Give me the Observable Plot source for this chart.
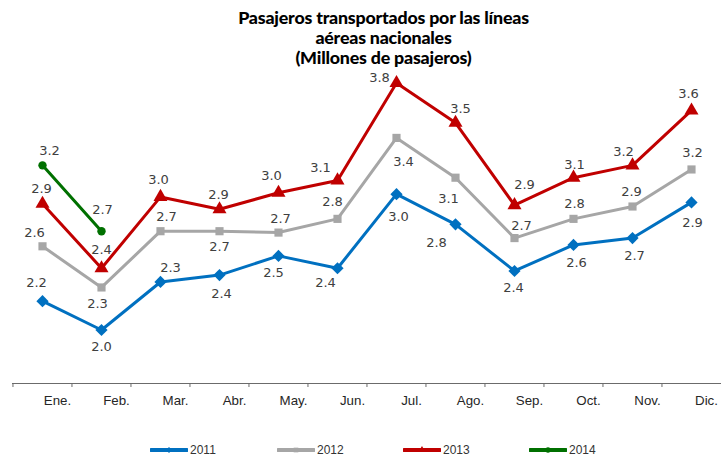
<!DOCTYPE html>
<html>
<head>
<meta charset="utf-8">
<script src="https://cdn.jsdelivr.net/npm/d3@7"></script>
<script src="https://cdn.jsdelivr.net/npm/@observablehq/plot@0.6"></script>
<style>
  body { margin: 0; background: #fff; }
  #wrap { width: 721px; height: 459px; position: relative; overflow: hidden; }
  #title { width: 721px; height: 70px; box-sizing: border-box; padding-top: 7px; padding-left: 46px;
    font-family: Lato, "Liberation Sans", sans-serif; font-weight: 900; font-size: 17.8px; line-height: 20px;
    text-align: center; color: #000; letter-spacing: -0.2px; }
  #legend { position: relative; height: 39px; font-family: "Liberation Sans", Arial, sans-serif; font-size: 12px; color: #333; }
  .item { position: absolute; top: 23px; display: flex; align-items: center; height: 14px; }
  .item svg { display: block; margin-right: 2px; }
</style>
</head>
<body>
<div id="wrap">
  <div id="title">Pasajeros transportados por las líneas<br>aéreas nacionales<br>(Millones de pasajeros)</div>
  <div id="chart"></div>
  <div id="legend"></div>
</div>
<script>
// ---- data ----
const months = ["Ene.", "Feb.", "Mar.", "Abr.", "May.", "Jun.", "Jul.", "Ago.", "Sep.", "Oct.", "Nov.", "Dic."];
const years = ["2011", "2012", "2013", "2014"];
const v2011 = [2.20, 1.99, 2.34, 2.39, 2.53, 2.44, 2.98, 2.76, 2.42, 2.61, 2.66, 2.92];
const v2012 = [2.60, 2.30, 2.71, 2.71, 2.70, 2.80, 3.39, 3.10, 2.66, 2.80, 2.89, 3.16];
const v2013 = [2.91, 2.44, 2.96, 2.87, 2.99, 3.08, 3.79, 3.50, 2.90, 3.10, 3.19, 3.59];
const v2014 = [3.19, 2.71];

// ---- layout config (not data) ----
const colors = ["#0070C0", "#A6A6A6", "#C00000", "#007000"];
const symbols = ["diamond2", "square", "triangle", "circle"];
const radii = [5.5, 4.6, 5.2, 4.2];
const labelOffsets = {
  "2011": [[-6,-18],[0,17],[10,-14],[2,19],[-5,17],[-12,15],[2,23],[-19,18],[-1,17],[3,18],[2,18],[1,20]],
  "2012": [[-8,-13],[-4,16],[6,-14],[0,16],[2,-14],[-5,-17],[7,24],[-7,21],[7,-12],[1,-15],[-1,-15],[1,-17]],
  "2013": [[-1,-15],[0,-18],[-2,-17],[-1,-14],[-7,-17],[-17,-13],[-17,-5],[5,-14],[10,-20],[1,-13],[-9,-14],[-3,-17]],
  "2014": [[7,-15],[1,-21]]
};

const seriesValues = [v2011, v2012, v2013, v2014];
const rows = seriesValues.flatMap((vals, s) =>
  vals.map((v, i) => ({month: months[i], value: v, series: years[s], i})));

const W = 721, H = 350, mL = 12, mR = 0, mB = 37;
const pxPerUnit = 137.2;
const yMin = 1.6, yMax = 3.8;
const mT = (H - mB) - (yMax - yMin) * pxPerUnit;
const step = (W - mL - mR) / months.length;
const fmt = d3.format(".1f");

const marks = [
  Plot.ruleY([yMin], {stroke: "#6b6b6b", strokeWidth: 1}),
  Plot.axisX({tickSize: 4, dx: -step / 2, tickFormat: () => "", stroke: "#6b6b6b", label: null}),
  Plot.axisX({tickSize: 0, dx: 15, tickPadding: 12, fontSize: 13.3, fill: "#262626", label: null,
    fontFamily: "'Liberation Sans', Arial, sans-serif"}),
  Plot.line(rows, {x: "month", y: "value", z: "series", stroke: "series", strokeWidth: 3,
    strokeLinejoin: "round", strokeLinecap: "round"})
];
years.forEach((yr, s) => {
  marks.push(Plot.dot(rows.filter(d => d.series === yr),
    {x: "month", y: "value", fill: "series", symbol: () => symbols[s], r: radii[s], stroke: "none"}));
});
rows.forEach(d => {
  const [dx, dy] = labelOffsets[d.series][d.i];
  marks.push(Plot.text([d], {x: "month", y: "value", text: r => fmt(r.value), dx, dy,
    fontSize: 13, fill: "#404040", fontFamily: "'DejaVu Sans', Verdana, sans-serif"}));
});

const chart = Plot.plot({
  width: W, height: H,
  marginLeft: mL, marginRight: mR, marginTop: mT, marginBottom: mB,
  style: {overflow: "visible", background: "transparent"},
  x: {type: "point", domain: months, padding: 0.5, axis: null, label: null},
  y: {domain: [yMin, yMax], axis: null},
  color: {domain: years, range: colors},
  symbol: {type: "identity"},
  marks
});
document.getElementById("chart").appendChild(chart);

// ---- legend ----
const legend = d3.select("#legend");
const legendX = [150, 277, 403, 529];
years.forEach((yr, s) => {
  const item = legend.append("div").attr("class", "item").style("left", legendX[s] + "px");
  const svg = item.append("svg").attr("width", 38).attr("height", 14);
  svg.append("line").attr("x1", 1).attr("x2", 37).attr("y1", 7).attr("y2", 7)
    .attr("stroke", colors[s]).attr("stroke-width", 4).attr("stroke-linecap", "round");
  const sym = {diamond2: d3.symbolDiamond2, square: d3.symbolSquare, triangle: d3.symbolTriangle, circle: d3.symbolCircle}[symbols[s]];
  svg.append("path").attr("transform", "translate(19,7)")
    .attr("d", d3.symbol(sym, 22)()).attr("fill", colors[s]);
  item.append("span").text(yr);
});
</script>
</body>
</html>
